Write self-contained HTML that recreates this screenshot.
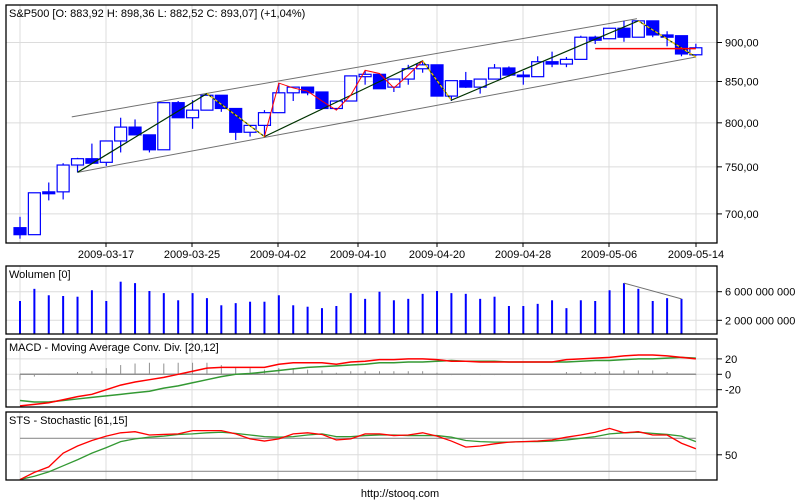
<!DOCTYPE html>
<html><head><meta charset="utf-8"><style>
body{margin:0;background:#fff;}
svg{display:block;font-family:"Liberation Sans",sans-serif;font-size:11px;}
</style></head><body>
<svg id="c" width="800" height="500"></svg>
<script>
const dates=["2009-03-17","2009-03-25","2009-04-02","2009-04-10","2009-04-20","2009-04-28","2009-05-06","2009-05-14"];
const dateX=[106,192,278,358,437,523,609,696];
const priceTicks=[900,850,800,750,700];
const priceTickLabels=["900,00","850,00","800,00","750,00","700,00"];
const opens=[686,679,723,723,752,759,755,779,795,786,769,824,806,815,833,817,789,797,812,836,843,837,817,826,856,859,843,853,866,871,832,851,843,853,867,858,856,875,872,878,907,905,919,907,929,910,909,883.92];
const highs=[697,722,733,754,760,776,779,806,804,786,824,826,827,834,833,817,797,815,848,843,843,837,826,857,864,859,853,871,876,871,851,862,853,872,869,863,882,888,881,909,909,919,929,930,929,915,909,898.36];
const lows=[675,679,714,715,744,754,751,766,786,766,769,806,793,815,813,780,784,784,812,826,833,817,815,826,846,841,837,846,861,832,826,842,835,853,856,846,856,868,868,878,898,905,901,907,907,895,882,882.52];
const closes=[679,722,721,752,759,754,779,795,786,769,824,806,815,833,817,789,797,812,836,843,836,817,826,857,859,841,853,866,871,832,851,843,853,867,858,856,875,872,878,907,903,919,907,929,910,907,885,893.07];
const volumes=[4.7,6.4,5.5,5.4,5.3,6.2,4.7,7.4,7.2,6.1,5.8,4.8,5.8,5.1,4.1,4.4,4.6,4.6,5.5,4.1,3.9,3.7,4.0,5.8,5.0,6.0,4.8,5.0,5.7,6.1,5.8,5.7,5.0,5.3,4.0,4.0,4.3,4.8,3.7,4.8,4.7,6.2,7.2,6.4,4.7,5.1,5.0];
const volTicks=[6,2];
const volTickLabels=["6 000 000 000","2 000 000 000"];
const macdLine=[-41,-39,-37,-33,-29,-26,-20,-14,-10,-7,-4,0,4,8,9,9,9,9,13,15,15,15,13,16,17,19,19,20,20,19,17,17,16,16,16,16,16,16,19,20,21,22,24,25,25,24,22,20];
const macdSignal=[-34,-36,-36,-34,-32,-30,-28,-26,-24,-22,-18,-15,-11,-7,-3,0,1,3,5,7,9,10,11,12,13,15,15,16,16,17,18,17,17,17,16,16,16,16,16,17,18,18,19,20,20,21,22,21];
const macdTicks=[20,0,-20];
const stsK=[5,18,28,53,66,76,84,90,92,86,87,88,94,94,94,88,79,75,79,88,90,87,77,79,88,88,85,86,90,84,75,64,66,70,73,74,75,77,82,86,91,98,90,92,86,86,71,61];
const stsD=[5,11,19,30,41,53,63,74,79,82,84,87,88,90,91,89,86,83,82,83,86,88,83,83,85,86,86,85,85,85,82,76,74,73,73,74,74,75,77,80,83,88,90,91,89,87,84,74];
const stsLevels=[80,20];
const zigIdx=[4,13,17,28,30,43,47];
const zigPrice=[744,835,784,876,827,929,881];
const redIdx=[17,18,19,20,21,22,23,24,25,26,27,28];
const redPrice=[784,848,842,838,826,815,833,864,860,842,858,876];
const chanUpIdx=[3.6,42.9], chanUpPrice=[807,932];
const chanLoIdx=[4,47], chanLoPrice=[744,881];
const supIdx=[40,47], supPrice=[892,892];
const volTrendIdx=[42,46], volTrendVal=[7.2,5.0];

const NS="http://www.w3.org/2000/svg";
const svg=document.getElementById('c');
function el(t,a,p){const e=document.createElementNS(NS,t);for(const k in a)e.setAttribute(k,a[k]);(p||svg).appendChild(e);return e;}
const X=i=>20+i*14.38;
const PY=p=>42.5-682*Math.log(p/900);
const VY=v=>334.6-v*7.15;
const MY=m=>374.3-0.77*m;
const SY=s=>482.3-0.55*s;
const L=6,R=717;
const panels=[[5,243],[266,334],[339,407],[412,480]];
// grid
panels.forEach(([t,b])=>{
  [20].concat(dateX).forEach(x=>{const g=el('line',{x1:x,x2:x,y1:t,y2:b,stroke:'#dcdcdc'});
  });
});
function hgrid(y,t,b,lab,ty){
  const g=el('line',{x1:L,x2:R,y1:y,y2:y,stroke:'#dcdcdc'});
  
  el('line',{x1:R,x2:R+5,y1:y,y2:y,stroke:'#000'});
  const tx=el('text',{x:725,y:y+4});tx.textContent=lab;
  
}
priceTicks.forEach((p,k)=>hgrid(PY(p),0,0,priceTickLabels[k],'price-tick-label'));
volTicks.forEach((v,k)=>hgrid(VY(v),0,0,volTickLabels[k],'volume-tick-label'));
macdTicks.forEach(m=>hgrid(MY(m),0,0,String(m),'macd-tick-label'));
hgrid(SY(50),0,0,'50','sts-tick-label');
// dates
dates.forEach((d,k)=>{const t=el('text',{x:dateX[k],y:258,'text-anchor':'middle'});t.textContent=d;
 
 el('line',{x1:dateX[k],x2:dateX[k],y1:243,y2:247,stroke:'#000'});});
// channel & lines
function line(idx,vals,fy,attrs,name){const e=el('polyline',Object.assign({points:idx.map((i,k)=>X(i)+','+fy(vals[k])).join(' '),fill:'none'},attrs));
 return e;}
line(chanUpIdx,chanUpPrice,PY,{stroke:'#707070'},'channel-upper');
line(chanLoIdx,chanLoPrice,PY,{stroke:'#707070'},'channel-lower');
// candles
opens.forEach((o,i)=>{
 const c=closes[i],x=X(i),up=c>=o;
 const g=el('g',{});
 el('line',{x1:x,x2:x,y1:PY(highs[i]),y2:PY(lows[i]),stroke:'#0000ff','stroke-width':1.2},g);
 const top=PY(Math.max(o,c)),bot=PY(Math.min(o,c));
 el('rect',{x:x-6,y:top,width:12,height:Math.max(bot-top,1.5),fill:up?'#fff':'#0000ff',stroke:'#0000ff','stroke-width':1.2},g);
});
line(zigIdx,zigPrice,PY,{stroke:'#003300','stroke-width':1.2},'zigzag-line');
for(let k=0;k<zigIdx.length-1;k++){if(zigPrice[k+1]<zigPrice[k]){
 line([zigIdx[k],zigIdx[k+1]],[zigPrice[k],zigPrice[k+1]],PY,{stroke:'#ffcc00','stroke-width':1.2,'stroke-dasharray':'3,2'},'zigzag-down');}}
line(redIdx,redPrice,PY,{stroke:'#ff0000','stroke-width':1},'red-wave-line');
line(supIdx,supPrice,PY,{stroke:'#ff0000','stroke-width':1.5},'support-line');
// volume
volumes.forEach((v,i)=>{const b=el('line',{x1:X(i),x2:X(i),y1:VY(v),y2:334,stroke:'#0000ff','stroke-width':2});
 });
line(volTrendIdx,volTrendVal,VY,{stroke:'#707070'},'volume-trend-line');
// macd
const z=el('line',{x1:X(0),x2:X(47),y1:MY(0),y2:MY(0),stroke:'#909090','stroke-width':1.5});
macdLine.forEach((m,i)=>{const h=el('line',{x1:X(i),x2:X(i),y1:MY(0),y2:MY(m-macdSignal[i]),stroke:'#909090'});
 });
const I=macdLine.map((_,i)=>i);
line(I,macdSignal,MY,{stroke:'#339933','stroke-width':1.5},'macd-signal-line');
line(I,macdLine,MY,{stroke:'#ff0000','stroke-width':1.5},'macd-line');
// sts
stsLevels.forEach(s=>{const l=el('line',{x1:X(0),x2:X(47),y1:SY(s),y2:SY(s),stroke:'#909090','stroke-width':1.2});
 });
line(I,stsD,SY,{stroke:'#339933','stroke-width':1.3},'sts-d-line');
line(I,stsK,SY,{stroke:'#ff0000','stroke-width':1.3},'sts-k-line');
// frames & titles
const titles=["S&P500 [O: 883,92  H: 898,36  L: 882,52  C: 893,07] (+1,04%)","Wolumen [0]","MACD - Moving Average Conv. Div. [20,12]","STS - Stochastic [61,15]"];
const tnames=['main-title','volume-title','macd-title','sts-title'];
panels.forEach(([t,b],k)=>{
 const f=el('rect',{x:L,y:t,width:R-L,height:b-t,fill:'none',stroke:'#000','stroke-width':1.3});
 
 const tx=el('text',{x:9,y:t+12,'xml:space':'preserve'});tx.textContent=titles[k];
 
});
const ft=el('text',{x:400,y:497,'text-anchor':'middle'});ft.textContent='http://stooq.com';

</script>
</body></html>
